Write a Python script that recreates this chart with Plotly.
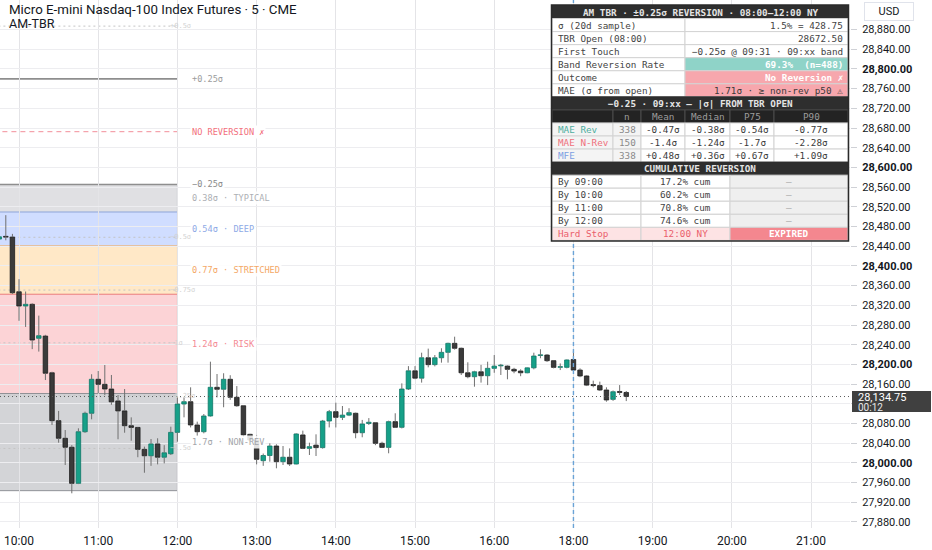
import plotly.graph_objects as go

# ---- 5-minute bars (NY time) ----
times = ["09:45", "09:50", "09:55",
         "10:00", "10:05", "10:10", "10:15", "10:20", "10:25", "10:30", "10:35", "10:40", "10:45", "10:50", "10:55",
         "11:00", "11:05", "11:10", "11:15", "11:20", "11:25", "11:30", "11:35", "11:40", "11:45", "11:50", "11:55",
         "12:00", "12:05", "12:10", "12:15", "12:20", "12:25", "12:30", "12:35", "12:40", "12:45", "12:50", "12:55",
         "13:00", "13:05", "13:10", "13:15", "13:20", "13:25", "13:30", "13:35", "13:40", "13:45", "13:50", "13:55",
         "14:00", "14:05", "14:10", "14:15", "14:20", "14:25", "14:30", "14:35", "14:40", "14:45", "14:50", "14:55",
         "15:00", "15:05", "15:10", "15:15", "15:20", "15:25", "15:30", "15:35", "15:40", "15:45", "15:50", "15:55",
         "16:00", "16:05", "16:10", "16:15", "16:20", "16:25", "16:30", "16:35", "16:40", "16:45", "16:50", "16:55",
         "18:00", "18:05", "18:10", "18:15", "18:20", "18:25", "18:30", "18:35", "18:40"]

opens = [28454.5, 28459, 28458.5,
         28347.5, 28318.5, 28322, 28253, 28257.5, 28183, 28085.75, 28050, 28031.75, 27958.5, 28063.25, 28100.75,
         28169.75, 28159.5, 28150, 28125.75, 28105.5, 28075.5, 28072, 28027.5, 28014.5, 28038.5, 28011.5, 28018.5,
         28062, 28119.5, 28124.25, 28077, 28063.25, 28095.25, 28153.5, 28149.5, 28169.75, 28133.25, 28116, 28058,
         28046.5, 28004.5, 28015, 28034.25, 28002.5, 28011.5, 27997.75, 28056.75, 28029.5, 28036, 28031, 28085,
         28104, 28092.5, 28097, 28100.75, 28061.25, 28080, 28081.5, 28039.75, 28031.5, 28083.75, 28072.25, 28150,
         28187, 28172, 28213.5, 28199.5, 28213.5, 28224.5, 28242.75, 28232.75, 28183, 28175, 28185, 28177,
         28192, 28197, 28196.5, 28190, 28186.5, 28183, 28193, 28218, 28219, 28207.5, 28194, 28194,
         28210, 28188.5, 28176.5, 28159, 28157, 28148, 28129, 28145, 28143]

highs = [28466, 28503, 28465,
         28373, 28348, 28324, 28299, 28260, 28185, 28105.5, 28066.75, 28036, 28070.25, 28104, 28180,
         28186.5, 28198.75, 28178.5, 28137.75, 28150, 28092.5, 28073, 28033, 28048.5, 28050, 28036, 28073.5,
         28134.5, 28133, 28153.5, 28083.75, 28099.25, 28205.5, 28180.5, 28182, 28178, 28156, 28117, 28059,
         28056.75, 28019, 28039.75, 28037.75, 28034.25, 28029.5, 28060, 28065.5, 28041, 28058, 28087.25, 28107.5,
         28122.25, 28115.5, 28111, 28102, 28087.25, 28091, 28083, 28043, 28085.75, 28100.75, 28161.5, 28196.5,
         28196.5, 28223.75, 28232, 28219, 28232.75, 28244, 28256.25, 28234, 28204.25, 28187, 28199, 28205.5,
         28219, 28201, 28198, 28193, 28190, 28194, 28223.75, 28230.75, 28221, 28208, 28202, 28210,
         28227.75, 28192, 28178, 28167, 28165, 28153.5, 28147, 28158, 28146]

lows = [28450, 28452, 28343,
        28288.5, 28276, 28231, 28226, 28168.25, 28077, 28041, 27995.75, 27938.25, 27957, 28061, 28088.5,
        28141.25, 28137.75, 28118, 28048, 28061.25, 28045, 28011.5, 27980, 27994, 27997, 27999, 28016,
        28043, 28092.5, 28072, 28054.5, 28060, 28094, 28133, 28113, 28128, 28114, 28053, 28044,
        27997, 27994, 28002.5, 27989, 27995.75, 27993.75, 27997, 28028, 28016, 28014, 28029, 28072,
        28072, 28087, 28095, 28050, 28052, 28077, 28036, 28031, 28019.5, 28071, 28070, 28148,
        28170, 28163, 28194, 28196, 28203.5, 28203.5, 28230, 28178.5, 28171.75, 28154.75, 28163, 28158,
        28183, 28178.5, 28169.75, 28182, 28176, 28182, 28190, 28212.5, 28205, 28192, 28188.5, 28192,
        28186, 28174, 28156, 28153.5, 28146, 28124.25, 28126, 28137.75, 28125.5]

closes = [28459, 28458.5, 28345.5,
          28318.5, 28322, 28249.5, 28258.25, 28182, 28085.75, 28050, 28031.75, 27958.5, 28063.25, 28100.75, 28169.75,
          28159.5, 28150, 28124, 28105.5, 28075.5, 28072, 28027.5, 28014.5, 28038.5, 28011.5, 28020.5, 28062,
          28119.5, 28124.25, 28077, 28063.25, 28095.25, 28153.5, 28149.5, 28169.75, 28133.25, 28116, 28056.75, 28046.5,
          28007.25, 28015, 28034.25, 28002.5, 28011.5, 27997.75, 28058.75, 28029.5, 28033, 28031, 28085, 28104,
          28092.5, 28097, 28102, 28061.25, 28079, 28082.5, 28039.75, 28031.5, 28083.75, 28072.25, 28150, 28187,
          28172, 28213.5, 28199.5, 28213.5, 28224.5, 28242.75, 28232.75, 28183, 28175, 28185, 28177, 28192,
          28196.5, 28197.5, 28190, 28186.5, 28183, 28193, 28217, 28219, 28207.5, 28194, 28194, 28209,
          28188.5, 28176.5, 28158, 28157, 28148, 28127.75, 28144.5, 28143, 28134.75]

last_price = 28134.75
countdown = "00:12"
time_ticks = ["10:00", "11:00", "12:00", "13:00", "14:00", "15:00", "16:00", "18:00", "19:00", "20:00", "21:00"]

# ---- AM-TBR study levels ----
tbr_open = 28672.50
sigma = 428.75
band_sigma = 0.25
band_end = "12:00"
session_marker = "18:00"

zone_edges = [0.25, 0.38, 0.54, 0.77, 1.24, 1.7]
zone_names = ["0.38σ · TYPICAL", "0.54σ · DEEP", "0.77σ · STRETCHED", "1.24σ · RISK", "1.7σ · NON-REV"]
zone_fills = ["rgba(120,123,134,0.23)", "rgba(41,98,255,0.22)", "rgba(255,152,0,0.22)",
              "rgba(242,54,69,0.22)", "rgba(120,123,134,0.33)"]
zone_lines = ["#b4b6bc", "#a9bdee", "#f3c08f", "#f08c95", "#909297"]
zone_text = ["#adafb4", "#8ea9e6", "#f4a866", "#f48a94", "#a3a5aa"]

guide_sigmas = [0.5, -0.5, -0.75, -1.0, -1.25, -1.5]
guide_names = ["+0.5σ", "−0.5σ", "−0.75σ", "−1σ", "−1.25σ", "−1.5σ"]

# ---- stats panel ----
panel_title = "AM TBR · ±0.25σ REVERSION · 08:00–12:00 NY"
summary_labels = ["σ (20d sample)", "TBR Open (08:00)", "First Touch", "Band Reversion Rate", "Outcome", "MAE (σ from open)"]
summary_values = ["1.5% = 428.75", "28672.50", "−0.25σ @ 09:31 · 09:xx band", "69.3%  (n=488)",
                  "No Reversion ✗", "1.71σ · ≥ non-rev p50 ⚠"]
stats_title = "−0.25 · 09:xx — |σ| FROM TBR OPEN"
stats_cols = ["", "n", "Mean", "Median", "P75", "P90"]
stats_rows = ["MAE Rev", "MAE N-Rev", "MFE"]
stats_n = [338, 150, 338]
stats_mean = ["-0.47σ", "-1.4σ", "+0.48σ"]
stats_median = ["-0.38σ", "-1.24σ", "+0.36σ"]
stats_p75 = ["-0.54σ", "-1.7σ", "+0.67σ"]
stats_p90 = ["-0.77σ", "-2.28σ", "+1.09σ"]
cum_title = "CUMULATIVE REVERSION"
cum_labels = ["By 09:00", "By 10:00", "By 11:00", "By 12:00"]
cum_values = ["17.2% cum", "60.2% cum", "70.8% cum", "74.6% cum"]
stop_row = ["Hard Stop", "12:00 NY", "EXPIRED"]

MONO = "DejaVu Sans Mono"
SANS = "Roboto"
UP, UP_EDGE = "#16a088", "#0e7767"
DN, DN_EDGE = "#3b3b3b", "#1c1c1c"
WICK = "#707070"

PLOT_W, PLOT_H = 850, 528
Y_RANGE = [27867.8, 28939.9]


def bar_index(t):
    h, m = map(int, t.split(":"))
    mins = (h - 10) * 60 + m
    if h >= 18:
        mins -= 60  # no bars during the 17:00-18:00 maintenance hour
    return mins / 5.0


def px(x):
    return x / PLOT_W


def py(y):
    return 1 - y / PLOT_H


def lvl(s):
    return tbr_open + s * sigma


xs = [bar_index(t) for t in times]
x_first = -2.88
x_last = 125.9
x_band_end = bar_index(band_end)

fig = go.Figure()

# wicks split above / below the body so they never cross it
wx, wy = [], []
for x, o, h, l, c in zip(xs, opens, highs, lows, closes):
    top, bot = max(o, c), min(o, c)
    wx += [x, x, None, x, x, None]
    wy += [h, top, None, bot, l, None]
fig.add_trace(go.Scatter(x=wx, y=wy, mode="lines", line=dict(color=WICK, width=1),
                         hoverinfo="skip", showlegend=False))

base = [min(o, c) for o, c in zip(opens, closes)]
height = [max(abs(c - o), 1.5) for o, c in zip(opens, closes)]
fill = [UP if c >= o else DN for o, c in zip(opens, closes)]
edge = [UP_EDGE if c >= o else DN_EDGE for o, c in zip(opens, closes)]
fig.add_trace(go.Bar(x=xs, y=height, base=base, width=0.68,
                     marker=dict(color=fill, line=dict(color=edge, width=0.8)),
                     hoverinfo="skip", showlegend=False))

shapes = []
ann = []

# reversion zones below the -0.25σ band, left of the 12:00 cutoff
for k, name in enumerate(zone_names):
    hi, lo = lvl(-zone_edges[k]), lvl(-zone_edges[k + 1])
    shapes.append(dict(type="rect", xref="x", yref="y", x0=x_first - 1, x1=x_band_end, y0=lo, y1=hi,
                       fillcolor=zone_fills[k], line=dict(color=zone_lines[k], width=1), layer="below"))
    ann.append(dict(xref="x", yref="y", x=x_band_end + 1.9, y=(hi + lo) / 2, xanchor="left", yanchor="middle",
                    text=name, showarrow=False, bgcolor="rgba(255,255,255,0.85)",
                    font=dict(family=MONO, size=8.6, color=zone_text[k])))

for s, name in zip(guide_sigmas, guide_names):
    shapes.append(dict(type="line", xref="x", yref="y", x0=x_first - 1, x1=x_band_end, y0=lvl(s), y1=lvl(s),
                       line=dict(color="#c4c4c4", width=1, dash="2px,3px"), layer="below"))
    ann.append(dict(xref="x", yref="y", x=x_band_end - 1.4, y=lvl(s), xanchor="left", yanchor="middle",
                    text=name, showarrow=False, font=dict(family=MONO, size=7, color="#d2d2d2")))

for s, name, col in [(band_sigma, "+0.25σ", "#9c9c9c"), (-band_sigma, "−0.25σ", "#8a8a8a")]:
    shapes.append(dict(type="line", xref="x", yref="y", x0=x_first - 1, x1=x_band_end, y0=lvl(s), y1=lvl(s),
                       line=dict(color="#8e8e8e", width=1.6), layer="below"))
    ann.append(dict(xref="x", yref="y", x=x_band_end + 1.9, y=lvl(s), xanchor="left", yanchor="middle",
                    text=name, showarrow=False, bgcolor="rgba(255,255,255,0.85)",
                    font=dict(family=MONO, size=8.6, color=col)))

shapes.append(dict(type="line", xref="x", yref="y", x0=x_first - 1, x1=x_band_end, y0=tbr_open, y1=tbr_open,
                   line=dict(color="#f28e99", width=1, dash="5px,4px"), layer="below"))
ann.append(dict(xref="x", yref="y", x=x_band_end + 1.9, y=tbr_open, xanchor="left", yanchor="middle",
                text="NO REVERSION ✗", showarrow=False, bgcolor="white",
                font=dict(family=MONO, size=8.6, color="#f26f7c")))

# session marker and last price line
xm = bar_index(session_marker)
shapes.append(dict(type="line", xref="x", yref="paper", x0=xm, x1=xm, y0=0, y1=1,
                   line=dict(color="#6aa3d6", width=1.4, dash="4px,3px"), layer="above"))
shapes.append(dict(type="line", xref="paper", yref="y", x0=0, x1=1, y0=last_price, y1=last_price,
                   line=dict(color="#5a5a5a", width=1, dash="1px,3px"), layer="above"))

# ---- stats panel (pixel layout inside the plot area) ----
T_LEFT, T_RIGHT, T_TOP, ROW_H = 552, 848, 5.5, 13.05


def cell(x0, x1, r, text, bg, color, align="left", border="#d3d3d3", bold=False):
    y0 = T_TOP + r * ROW_H
    y1 = y0 + ROW_H
    shapes.append(dict(type="rect", xref="paper", yref="paper", x0=px(x0), x1=px(x1), y0=py(y1), y1=py(y0),
                       fillcolor=bg, line=dict(color=border, width=1), layer="above"))
    if text == "":
        return
    if align == "left":
        ax, xa = x0 + 3.5, "left"
    elif align == "right":
        ax, xa = x1 - 3.5, "right"
    else:
        ax, xa = (x0 + x1) / 2, "center"
    ann.append(dict(xref="paper", yref="paper", x=px(ax), y=py((y0 + y1) / 2), xanchor=xa, yanchor="middle",
                    text="<b>%s</b>" % text if bold else text, showarrow=False,
                    font=dict(family=MONO, size=9.3, color=color)))


def title_row(r, text):
    cell(T_LEFT, T_RIGHT, r, text, "#2e2e2e", "#e4e4e4", align="center", border="#2e2e2e", bold=True)


row = 0
title_row(row, panel_title)
row += 1
mid = 685
sum_bg = ["white", "white", "white", "#8fd3c8", "#f7a7ad", "#f7a7ad"]
sum_fg = ["#444", "#444", "#444", "white", "white", "#3a3a3a"]
for k, (lab, val) in enumerate(zip(summary_labels, summary_values)):
    cell(T_LEFT, mid, row, lab, "white", "#444")
    cell(mid, T_RIGHT, row, val, sum_bg[k], sum_fg[k], align="right", bold=(k in (3, 4)))
    row += 1

title_row(row, stats_title)
row += 1
col_x = [552, 613, 641, 685, 730, 774, 848]
for j, name in enumerate(stats_cols):
    cell(col_x[j], col_x[j + 1], row, name, "#232323", "#9c9c9c", align="center", border="#4d4d4d")
row += 1
lab_col = ["#4fae9f", "#f0707c", "#7c9fe2"]
for k, lab in enumerate(stats_rows):
    vals = [str(stats_n[k]), stats_mean[k], stats_median[k], stats_p75[k], stats_p90[k]]
    cell(col_x[0], col_x[1], row, lab, "#f4f4f4", lab_col[k])
    cell(col_x[1], col_x[2], row, vals[0], "#f4f4f4", "#8a8a8a", align="center")
    for j in range(1, 5):
        cell(col_x[j + 1], col_x[j + 2], row, vals[j], "white", "#3a3a3a", align="center")
    row += 1

title_row(row, cum_title)
row += 1
cum_x = [552, 641, 730, 848]
for lab, val in zip(cum_labels, cum_values):
    cell(cum_x[0], cum_x[1], row, lab, "white", "#444")
    cell(cum_x[1], cum_x[2], row, val, "white", "#444", align="center")
    cell(cum_x[2], cum_x[3], row, "—", "#efefef", "#a8a8a8", align="center")
    row += 1
cell(cum_x[0], cum_x[1], row, stop_row[0], "#fde3e4", "#ea5f6c")
cell(cum_x[1], cum_x[2], row, stop_row[1], "#fde3e4", "#ea5f6c", align="center")
cell(cum_x[2], cum_x[3], row, stop_row[2], "#f4878f", "white", align="center", bold=True)
row += 1
shapes.append(dict(type="rect", xref="paper", yref="paper", x0=px(T_LEFT - 0.5), x1=px(T_RIGHT + 0.5),
                   y0=py(T_TOP + row * ROW_H + 0.5), y1=py(T_TOP - 0.5),
                   line=dict(color="#2a2a2a", width=1.5), layer="above"))

# ---- header texts and axis badges ----
ann.append(dict(xref="paper", yref="paper", x=px(8), y=py(10), xanchor="left", yanchor="middle",
                text="Micro E-mini Nasdaq-100 Index Futures · 5 · CME", showarrow=False, borderpad=0,
                font=dict(family=SANS, size=13.3, color="#131722")))
ann.append(dict(xref="paper", yref="paper", x=px(8), y=py(24), xanchor="left", yanchor="middle",
                text="AM-TBR", showarrow=False, borderpad=0,
                font=dict(family=SANS, size=12.5, color="#131722")))
ann.append(dict(xref="paper", yref="paper", x=px(889), y=py(11.5), xanchor="center", yanchor="middle",
                text="USD", showarrow=False, bordercolor="#e0e3eb", borderwidth=1, borderpad=2, width=44,
                bgcolor="white", font=dict(family=SANS, size=11, color="#131722")))

# last-price badge on the price scale (paper coords so it is not clipped to the plot)
p_frac = (last_price - Y_RANGE[0]) / (Y_RANGE[1] - Y_RANGE[0])
shapes.append(dict(type="rect", xref="paper", yref="paper",
                   x0=px(852), x1=px(931), y0=p_frac - 15.5 / PLOT_H, y1=p_frac + 5.5 / PLOT_H,
                   fillcolor="#404040", line=dict(width=0), layer="above"))
ann.append(dict(xref="paper", yref="paper", x=px(857), y=p_frac - 1 / PLOT_H, xanchor="left", yanchor="middle",
                text=format(last_price, ",.2f"), showarrow=False, borderpad=0,
                font=dict(family=SANS, size=11, color="white")))
ann.append(dict(xref="paper", yref="paper", x=px(857), y=p_frac - 10.5 / PLOT_H, xanchor="left",
                yanchor="middle", text=countdown, showarrow=False, borderpad=0,
                font=dict(family=SANS, size=10, color="#e8e8e8")))

# tick labels; the one under the last-price badge is hidden like on the original
y_ticks = list(range(27880, 28881, 40))
y_text = []
for v in y_ticks:
    t = format(v, ",.2f")
    if abs(v - last_price) < 20:
        t = ""
    elif v % 200 == 0:
        t = "<b>%s</b>" % t
    y_text.append(t)

fig.update_layout(
    width=932, height=550,
    margin=dict(l=0, r=82, t=0, b=22),
    paper_bgcolor="white", plot_bgcolor="white",
    shapes=shapes, annotations=ann,
    showlegend=False, hovermode=False,
    xaxis=dict(range=[x_first, x_last], tickvals=[bar_index(t) for t in time_ticks], ticktext=time_ticks,
               showgrid=True, gridcolor="#e4e4e7", zeroline=False, showline=False, ticks="",
               ticklabelstandoff=4, tickfont=dict(family=SANS, size=12, color="#131722")),
    yaxis=dict(range=Y_RANGE, side="right", tickvals=y_ticks, ticktext=y_text,
               showgrid=True, gridcolor="#ededf0", zeroline=False, showline=False,
               ticks="outside", ticklen=6, tickcolor="#cfd1d6", ticklabelstandoff=3,
               tickfont=dict(family=SANS, size=11, color="#131722")),
)

# the page's default 8px body margin would shift the whole chart
fig.write_html("out.html", config={"displayModeBar": False},
               post_script="document.body.style.margin='0';document.body.style.overflow='hidden';")
